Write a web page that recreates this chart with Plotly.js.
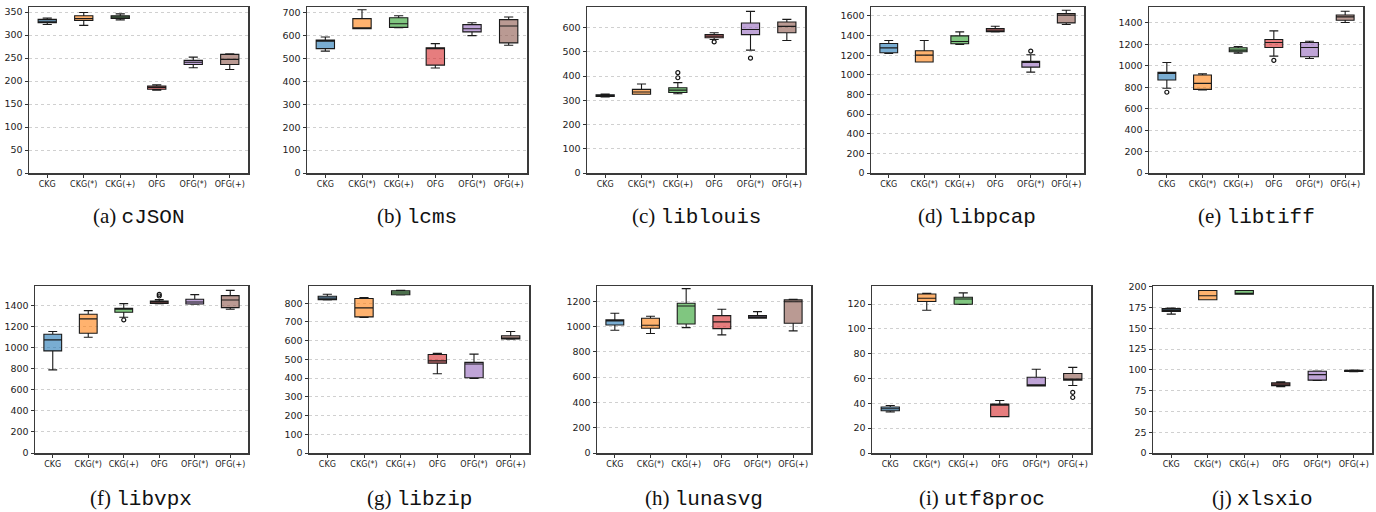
<!DOCTYPE html>
<html>
<head>
<meta charset="utf-8">
<script src="https://cdn.plot.ly/plotly-3.0.1.min.js"></script>
<style>html,body{margin:0;padding:0;background:#fff;}#chart{width:1376px;height:512px;}</style>
</head>
<body>
<div id="chart"></div>
<script>
// Categories (x tick labels)
const categories = ['CKG', 'CKG(*)', 'CKG(+)', 'OFG', 'OFG(*)', 'OFG(+)'];

// Per-chart box statistics: [lowerWhisker, q1, median, q3, upperWhisker] per category
const cJSON    = [[323,327,330,334,337],[321,332,336,342,349],[333,336,339,342,346],[180,182,186,189,192],[229,236,241,245,252],[225,236,247,258,259]];
const lcms     = [[533,544,578,581,595],[631,631,632,675,714],[636,637,653,679,688],[459,472,547,548,566],[601,617,631,649,657],[559,569,643,671,682]];
const liblouis = [[314,316,320,323,326],[325,325,334,345,367],[327,332,342,352,373],[551,558,564,571,579],[507,571,592,619,667],[547,579,605,623,634]];
const libpcap  = [[1218,1225,1275,1319,1350],[1130,1130,1201,1245,1350],[1309,1316,1340,1397,1438],[1438,1440,1455,1472,1495],[1028,1079,1125,1137,1204],[1512,1529,1607,1624,1658]];
const libtiff  = [[790,867,929,938,1031],[774,780,836,914,926],[1118,1130,1146,1168,1180],[1090,1171,1217,1245,1325],[1068,1084,1171,1217,1229],[1403,1425,1456,1474,1508]];
const libvpx   = [[788,968,1072,1126,1151],[1097,1135,1271,1315,1350],[1287,1334,1362,1372,1416],[1416,1418,1432,1441,1454],[1410,1412,1432,1457,1501],[1362,1378,1451,1492,1542]];
const libzip   = [[818,819,827,837,848],[724,727,775,825,830],[844,845,855,866,869],[423,480,492,526,532],[398,402,475,484,528],[608,609,612,626,649]];
const lunasvg  = [[971,1013,1045,1053,1105],[945,987,1011,1066,1082],[992,1021,1163,1184,1300],[934,984,1037,1087,1137],[1066,1067,1071,1087,1118],[966,1026,1197,1211,1216]];
const utf8proc = [[33,34,35.6,37,38.3],[115,122,124.6,128,128.6],[119.7,119.8,124,125.4,129],[29.2,29.3,38.8,39.4,42.3],[54,54.1,54.3,61,67.5],[54.4,58.7,59,64,69]];
const xlsxio   = [[167.2,170.5,172,173.8,174.6],[184.4,184.5,189.3,195.5,195.6],[191,191.1,191.3,195.5,195.6],[79.9,81.1,82.8,84.4,85.7],[87.3,87.7,94.3,98.4,98.5],[98,98.1,98.8,99.6,99.7]];

// Outliers per category
const liblouis_out = [[],[],[393,414],[541],[474],[]];
const libpcap_out  = [[],[],[],[],[1242],[]];
const libtiff_out  = [[753],[],[],[1050],[],[]];
const libvpx_out   = [[],[],[1261],[1488,1504],[],[]];
const utf8proc_out = [[],[],[],[],[],[44.7,48.8]];

// Caption labels
const letters = ['(a)','(b)','(c)','(d)','(e)','(f)','(g)','(h)','(i)','(j)'];
const names   = ['cJSON','lcms','liblouis','libpcap','libtiff','libvpx','libzip','lunasvg','utf8proc','xlsxio'];

const fills = ['rgba(31,119,180,0.6)','rgba(255,127,14,0.6)','rgba(44,160,44,0.6)','rgba(214,39,40,0.6)','rgba(148,103,189,0.6)','rgba(140,86,75,0.6)'];

const charts = [
  {stats: cJSON,    out: null,         ymax: 361,  dtick: 50,  px: [29, 248],   row: 0},
  {stats: lcms,     out: null,         ymax: 726,  dtick: 100, px: [307, 527],  row: 0},
  {stats: liblouis, out: liblouis_out, ymax: 685,  dtick: 100, px: [587, 805],  row: 0},
  {stats: libpcap,  out: libpcap_out,  ymax: 1691, dtick: 200, px: [871, 1084], row: 0},
  {stats: libtiff,  out: libtiff_out,  ymax: 1548, dtick: 200, px: [1149, 1363],row: 0},
  {stats: libvpx,   out: libvpx_out,   ymax: 1583, dtick: 200, px: [35, 248],   row: 1},
  {stats: libzip,   out: null,         ymax: 892,  dtick: 100, px: [309, 529],  row: 1},
  {stats: lunasvg,  out: null,         ymax: 1321, dtick: 200, px: [597, 811],  row: 1},
  {stats: utf8proc, out: utf8proc_out, ymax: 134.5,dtick: 20,  px: [872, 1091], row: 1},
  {stats: xlsxio,   out: null,         ymax: 201,  dtick: 25,  px: [1153, 1372],row: 1}
];

const W = 1376, H = 512;
const rowsPx = [[7, 173], [286, 453]];
const captionY = [216, 498];

const data = [];
const layout = {
  width: W, height: H,
  margin: {l: 0, r: 0, t: 0, b: 0},
  paper_bgcolor: '#fff', plot_bgcolor: '#fff',
  showlegend: false,
  font: {family: 'DejaVu Sans', color: '#222'},
  annotations: []
};

charts.forEach((c, k) => {
  const n = k + 1;
  const xa = n === 1 ? 'x' : 'x' + n;
  const ya = n === 1 ? 'y' : 'y' + n;
  const [top, bot] = rowsPx[c.row];
  const xd = [c.px[0] / W, c.px[1] / W];
  const yd = [1 - bot / H, 1 - top / H];
  const axLine = {showline: true, mirror: true, linecolor: '#3a3a3a', linewidth: 1.5};
  layout['xaxis' + (n === 1 ? '' : n)] = Object.assign({
    domain: xd, anchor: ya, range: [-0.5, 5.5],
    tickvals: [0,1,2,3,4,5], ticktext: categories,
    tickfont: {size: 8, family: 'DejaVu Sans', color: '#222'},
    ticks: 'outside', ticklen: 3, tickcolor: '#333',
    showgrid: false, zeroline: false, fixedrange: true
  }, axLine);
  layout['yaxis' + (n === 1 ? '' : n)] = Object.assign({
    domain: yd, anchor: xa, range: [0, c.ymax], dtick: c.dtick, tick0: 0,
    tickfont: {size: 9.5, family: 'DejaVu Sans', color: '#222'},
    ticks: 'outside', ticklen: 3, tickcolor: '#333',
    showgrid: true, gridcolor: '#c4c4c4', griddash: 'dot', gridwidth: 0.8,
    zeroline: false, fixedrange: true
  }, axLine);

  c.stats.forEach((s, i) => {
    data.push({
      type: 'box', xaxis: xa, yaxis: ya,
      x: [i], lowerfence: [s[0]], q1: [s[1]], median: [s[2]], q3: [s[3]], upperfence: [s[4]],
      width: 0.5, whiskerwidth: 0.5,
      fillcolor: fills[i],
      line: {color: '#1a1a1a', width: 1.1},
      boxpoints: false, hoverinfo: 'skip', showlegend: false
    });
  });
  if (c.out) {
    const ox = [], oy = [];
    c.out.forEach((arr, i) => arr.forEach(v => { ox.push(i); oy.push(v); }));
    data.push({
      type: 'scatter', mode: 'markers', xaxis: xa, yaxis: ya,
      x: ox, y: oy,
      marker: {symbol: 'circle-open', size: 4, color: '#111', line: {width: 1.2, color: '#111'}},
      hoverinfo: 'skip', showlegend: false
    });
  }

  layout.annotations.push({
    xref: 'paper', yref: 'paper',
    x: (xd[0] + xd[1]) / 2, y: 1 - captionY[c.row] / H,
    xanchor: 'center', yanchor: 'middle', showarrow: false,
    text: '<span style="font-family:Liberation Serif">' + letters[k] + '</span> <span style="font-family:Liberation Mono;font-weight:300">' + names[k] + '</span>',
    font: {size: 21, color: '#111', family: 'Liberation Serif'}
  });
});

Plotly.newPlot('chart', data, layout, {staticPlot: true, displayModeBar: false});
</script>
</body>
</html>
